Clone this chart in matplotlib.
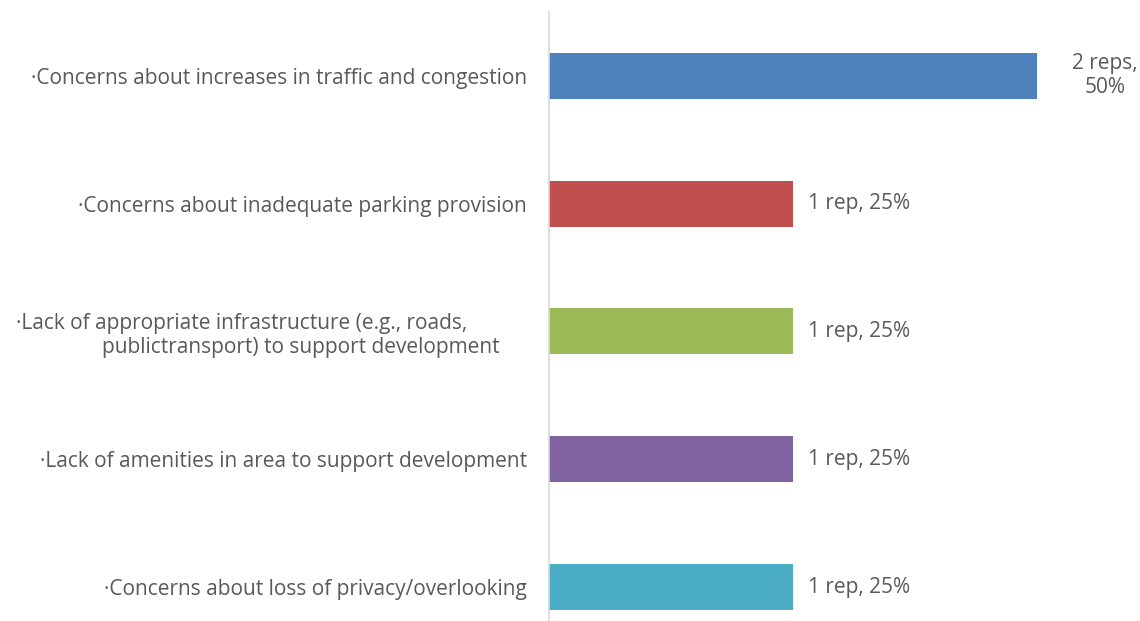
import matplotlib.pyplot as plt

categories = [
    "·Concerns about increases in traffic and congestion",
    "·Concerns about inadequate parking provision",
    "·Lack of appropriate infrastructure (e.g., roads," + " " * 11
    + "\npublictransport) to support development" + " " * 5,
    "·Lack of amenities in area to support development",
    "·Concerns about loss of privacy/overlooking",
]
percents = [50, 25, 25, 25, 25]
value_labels = ["2 reps,\n50%", "1 rep, 25%", "1 rep, 25%", "1 rep, 25%", "1 rep, 25%"]
colors = ["#4F81BD", "#C0504D", "#9BBB59", "#8064A2", "#4BACC6"]

plt.rcParams['font.family'] = ['Open Sans', 'DejaVu Sans']
text_color = "#595959"

fig = plt.figure(figsize=(11.4, 6.21), dpi=100)
# axes: left edge at the value axis line, top at 12px, bottom at the figure edge
ax = fig.add_axes([549 / 1140, 0, 1 - 549 / 1140, 1 - 12 / 621])

pos = list(range(len(categories)))
ax.barh(pos, percents, height=0.36, color=colors)

# 25% spans 244px
ax.set_xlim(0, (1140 - 549) / 244 * 25)
ax.set_ylim(len(categories) - 1 + 0.266, -0.5)

ax.set_yticks(pos)
ax.set_yticklabels(categories, fontsize=15, color=text_color, ha='right')
ax.tick_params(axis='y', length=0, pad=16)
ax.set_xticks([])

for side in ['top', 'right', 'bottom']:
    ax.spines[side].set_visible(False)
ax.spines['left'].set_color('#D9D9D9')
ax.spines['left'].set_linewidth(1.2)

for p, v, lab in zip(pos, percents, value_labels):
    if "\n" in lab:
        ax.annotate(lab, xy=(v, p), xytext=(49, 0), textcoords='offset points',
                    ha='center', va='center', fontsize=15, color=text_color)
    else:
        ax.annotate(lab, xy=(v, p), xytext=(11, 0), textcoords='offset points',
                    ha='left', va='center', fontsize=15, color=text_color)

fig.savefig("out.png", dpi=100)
